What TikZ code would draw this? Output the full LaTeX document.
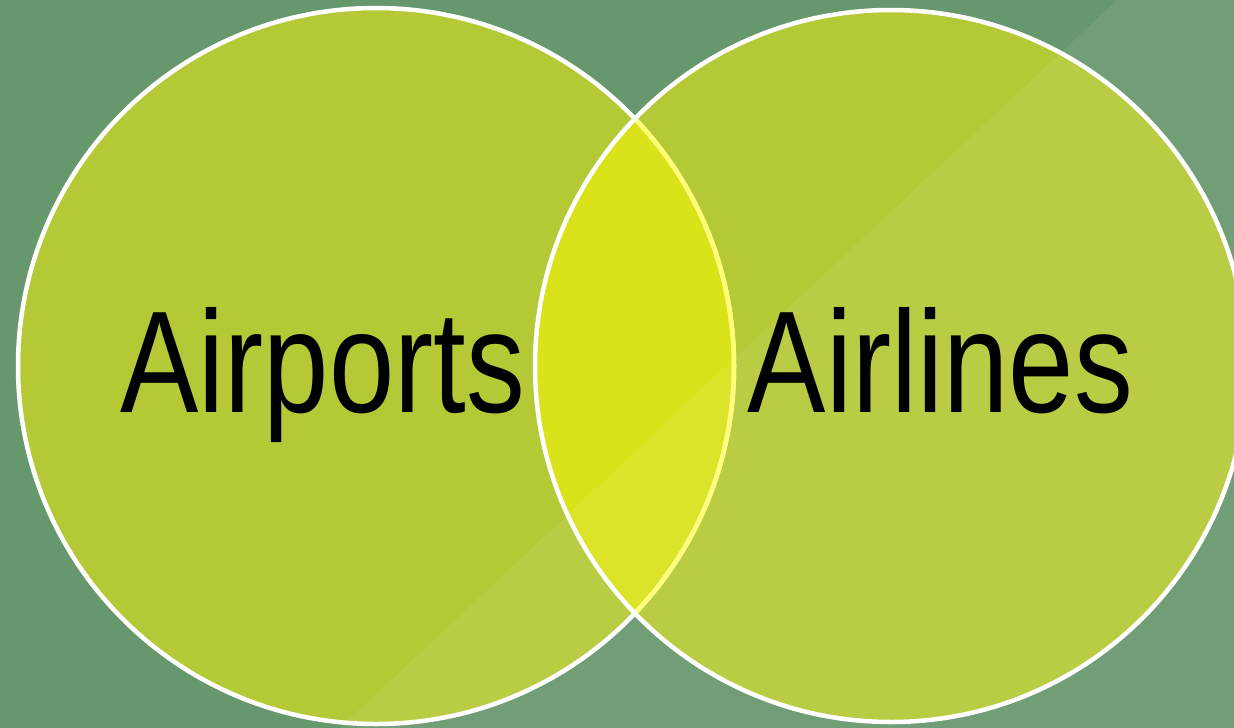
\documentclass[tikz,border=0pt]{standalone}
\usepackage{fontspec}
\setmainfont{Liberation Sans}
\definecolor{bgdark}{RGB}{103,151,108}
\definecolor{circfill}{RGB}{181,201,54}
\definecolor{interfill}{RGB}{218,227,26}
\definecolor{palestroke}{RGB}{255,255,115}
\tikzset{
  ringline/.style={draw=white,line width=4.5pt},
  paleline/.style={draw=palestroke,line width=4.5pt},
  bigword/.style={text=black,inner sep=0pt,anchor=base,font=\fontsize{145}{150}\selectfont},
}
\begin{document}
\begin{tikzpicture}[x=1pt,y=-1pt]
\useasboundingbox (0,0) rectangle (1234,728);
\begin{scope}
\clip (0,0) rectangle (1234,728);
\fill[bgdark] (0,0) rectangle (1234,728);
\coordinate (lc) at (376,366);
\coordinate (rc) at (891,366);
\fill[circfill] (lc) circle[radius=358];
\fill[circfill] (rc) circle[radius=356];
\begin{scope}
\clip (lc) circle[radius=358];
\fill[interfill] (rc) circle[radius=356];
\end{scope}
\draw[ringline] (lc) circle[radius=358];
\begin{scope}
\clip (rc) circle[radius=356];
\draw[paleline] (lc) circle[radius=358];
\end{scope}
\draw[ringline] (rc) circle[radius=356];
\fill[white,opacity=0.07] (1117,0) -- (1234,0) -- (1234,728) -- (340,728) -- cycle;
\end{scope}
\node[bigword] (airports) at (322.5,412) {\scalebox{0.81}[1]{Airports}};
\node[bigword] (airlines) at (940.5,412) {\scalebox{0.81}[1]{Airlines}};
\end{tikzpicture}
\end{document}
